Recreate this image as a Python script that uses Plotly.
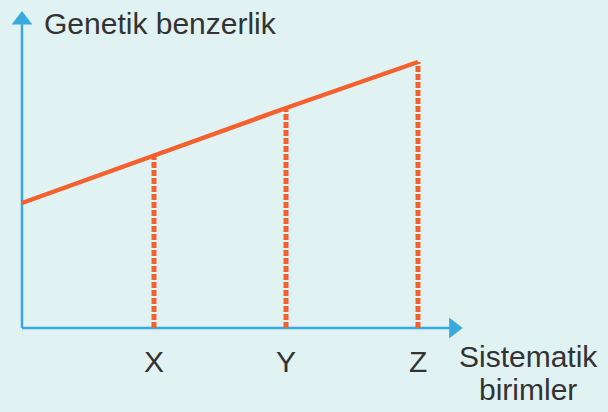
import plotly.graph_objects as go

# Data
categories = ["X", "Y", "Z"]
cat_pos = [1.0, 2.0, 3.0]
line_x = [0.0, 1.0, 2.0, 3.0]
line_y = [1.25, 1.73, 2.20, 2.66]
y_title = "Genetik benzerlik"
x_title_lines = ["Sistematik", "birimler"]

W, H = 608, 412
ORANGE = "#f4602e"
BLUE = "#3aa9e0"
BG = "#e1f2f2"
TXT = "#333333"
FS = 30

# pixel mapping: x=0 -> px 22, 1 unit = 132 px ; y=0 -> py 328, 1 unit = 100 px
xr = [-22 / 132, (W - 22) / 132]
yr = [-(H - 328) / 100, 328 / 100]

fig = go.Figure()

# axes lines
fig.add_trace(go.Scatter(x=[0, 0], y=[0, 3.05], mode="lines",
                         line=dict(color=BLUE, width=2.5), hoverinfo="skip"))
fig.add_trace(go.Scatter(x=[0, 3.28], y=[0, 0], mode="lines",
                         line=dict(color=BLUE, width=2.5), hoverinfo="skip"))
# arrowheads
fig.add_trace(go.Scatter(x=[0], y=[3.08], mode="markers",
                         marker=dict(symbol="triangle-up", size=18, color=BLUE,
                                     line=dict(width=0)), hoverinfo="skip"))
fig.add_trace(go.Scatter(x=[3.27], y=[0], mode="markers",
                         marker=dict(symbol="triangle-right", size=18, color=BLUE,
                                     line=dict(width=0)), hoverinfo="skip"))

# dotted drop lines
for p, v in zip(cat_pos, line_y[1:]):
    fig.add_trace(go.Scatter(x=[p, p], y=[0, v], mode="lines",
                             line=dict(color=ORANGE, width=5, dash="6px,2px"),
                             hoverinfo="skip"))

# main line
fig.add_trace(go.Scatter(x=line_x, y=line_y, mode="lines",
                         line=dict(color=ORANGE, width=4.5), hoverinfo="skip"))

fig.update_layout(
    width=W, height=H,
    margin=dict(l=0, r=0, t=0, b=0),
    paper_bgcolor=BG, plot_bgcolor=BG,
    showlegend=False,
    xaxis=dict(range=xr, visible=False, fixedrange=True),
    yaxis=dict(range=yr, visible=False, fixedrange=True),
    font=dict(family="Liberation Sans, Arial, sans-serif", color=TXT, size=FS),
)

# category labels
for c, p in zip(categories, cat_pos):
    fig.add_annotation(x=p, y=-0.33, xref="x", yref="y", text=c, showarrow=False,
                       yanchor="middle", font=dict(size=FS, color=TXT))

fig.add_annotation(x=42 / W, y=1 - 24 / H, xref="paper", yref="paper",
                   text=y_title, showarrow=False, xanchor="left", yanchor="middle",
                   font=dict(size=FS, color=TXT))
for txt, py in zip(x_title_lines, [356, 389]):
    fig.add_annotation(x=528 / W, y=1 - py / H, xref="paper", yref="paper",
                       text=txt, showarrow=False, xanchor="center", yanchor="middle",
                       font=dict(size=FS, color=TXT))

fig.write_html("out.html", config={"displayModeBar": False},
               post_script="document.body.style.margin='0';document.body.style.padding='0';")
